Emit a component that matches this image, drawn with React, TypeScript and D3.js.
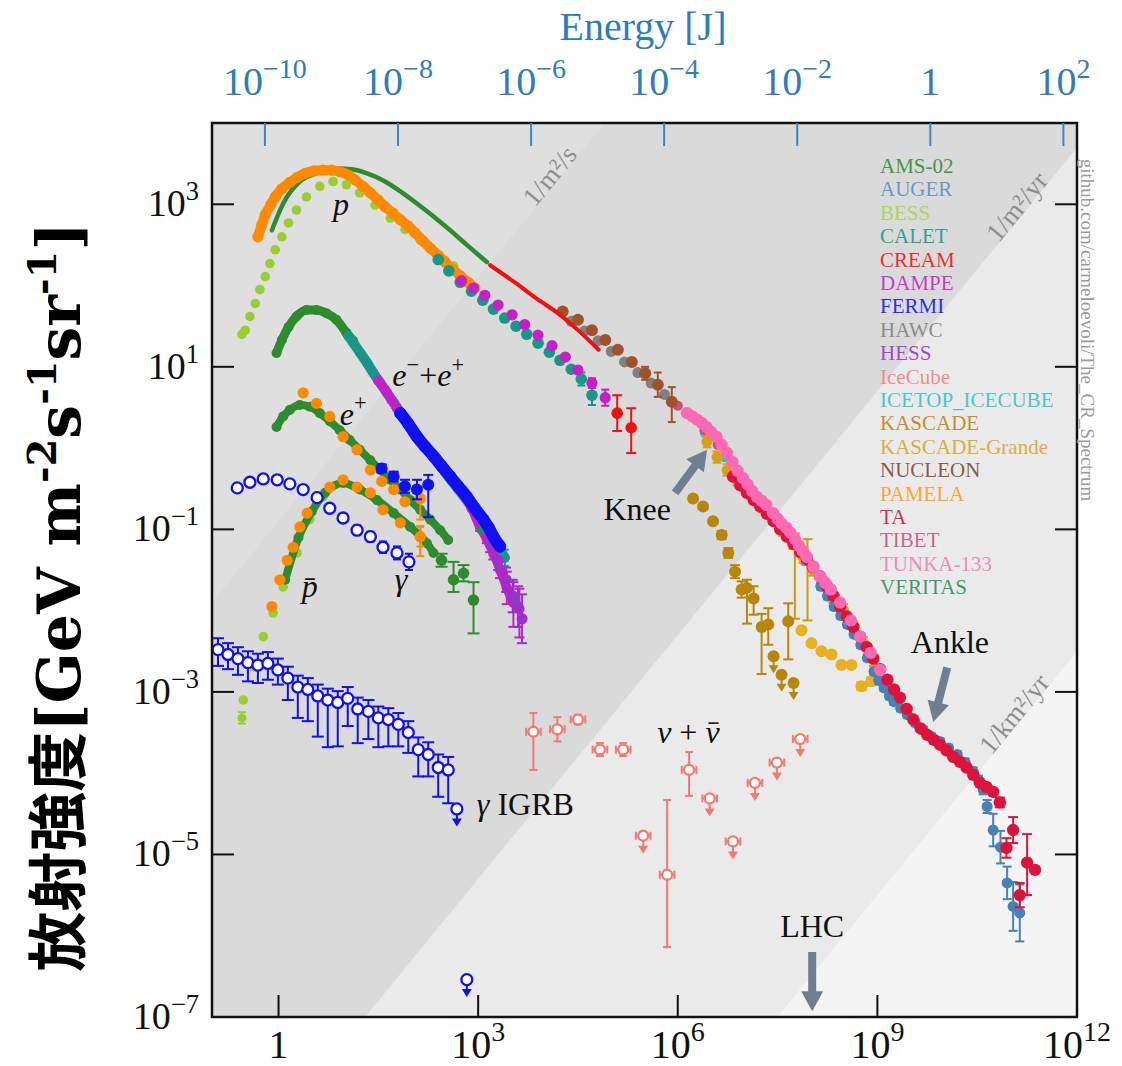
import React, { useEffect, useRef } from 'react';
import * as d3 from 'd3';

// Values, kept in decades:
// [log10(E / GeV), log10(E^2 J / GeV m^-2 s^-1 sr^-1), err down, err up]  (errors in decades)

// ---- protons
const bessP = [[-0.55,1.40],[-0.50,1.45],[-0.43,1.62],[-0.35,1.78],[-0.28,1.95],[-0.20,2.11],[-0.13,2.27],[-0.05,2.44],[0.05,2.60],[0.15,2.77],[0.27,2.93],[0.42,3.09],[0.62,3.22],[0.82,3.28],[1.02,3.24],[1.22,3.14],[1.45,2.99],[1.68,2.83],[1.90,2.69],[2.13,2.56],[2.32,2.43],[2.50,2.31],[2.63,2.24]];
const amsP = [[-0.10,2.68],[0.07,3.01],[0.32,3.28],[0.57,3.38],[0.87,3.44],[1.10,3.43],[1.33,3.38],[1.58,3.29],[1.83,3.16],[2.08,3.01],[2.33,2.85],[2.58,2.68],[2.83,2.50],[3.13,2.29]];
const pamelaP = [[-0.31,2.60],[-0.25,2.75],[-0.20,2.87],[-0.12,2.99],[-0.05,3.09],[0.05,3.19],[0.17,3.27],[0.28,3.33],[0.40,3.38],[0.53,3.41],[0.67,3.42],[0.80,3.42],[0.92,3.40],[1.05,3.36],[1.15,3.30],[1.27,3.22],[1.38,3.14],[1.50,3.05],[1.60,2.97],[1.72,2.89],[1.83,2.81],[1.95,2.73],[2.05,2.65],[2.17,2.55],[2.28,2.46],[2.40,2.37],[2.50,2.29],[2.62,2.20],[2.73,2.12],[2.85,2.04],[2.95,1.97]];
const caletP = [[2.40,2.32],[2.56,2.18],[2.73,2.04],[2.90,1.93],[3.07,1.82],[3.23,1.71],[3.40,1.60],[3.57,1.50],[3.73,1.40],[3.90,1.29],[4.07,1.18],[4.23,1.08],[4.40,0.97],[4.55,0.85,0.08],[4.71,0.65,0.12]];
const dampeP = [[2.75,2.06],[2.93,1.97],[3.10,1.88],[3.30,1.76],[3.51,1.64],[3.70,1.52],[3.90,1.39],[4.11,1.26],[4.31,1.12],[4.50,0.96],[4.71,0.80,0.06],[4.91,0.62,0.1]];
const creamLine = [[3.18,2.25],[3.53,2.05],[3.88,1.84],[4.23,1.64],[4.53,1.43],[4.81,1.21]];
const creamP = [[5.09,0.43,0.22,0.22],[5.30,0.25,0.31,0.24]];
const nucleon = [[4.27,1.68],[4.50,1.58],[4.71,1.45],[4.91,1.33],[5.10,1.21],[5.31,1.06],[5.51,0.92,0.08],[5.70,0.78,0.15],[5.91,0.57,0.25,0.18]];
const hawc = [[4.40,1.56],[4.60,1.44],[4.80,1.32],[5.00,1.19],[5.20,1.06],[5.40,0.93],[5.60,0.80],[5.80,0.66]];

// ---- all-particle, knee to ankle
const icetop = [[6.4,0.18],[6.7,-0.12],[7.0,-0.46],[7.3,-0.76],[7.6,-1.06],[7.9,-1.40],[8.2,-1.72]];
const tibet = [[6.0,0.52],[6.2,0.40],[6.4,0.22],[6.6,0.04],[6.8,-0.18],[7.0,-0.42]];
const kgAll = [[6.44,0.08,0.07],[6.59,-0.11,0.07],[6.74,-0.27,0.07],[6.89,-0.39,0.07],[7.09,-0.55,0.07],[7.28,-0.72,0.07],[7.43,-0.85,0.07],[7.58,-1.01,0.07],[7.73,-1.17,0.07],[7.88,-1.34,0.07],[8.03,-1.50,0.07],[8.18,-1.66,0.07],[8.33,-1.83,0.07],[8.49,-1.99,0.07],[8.64,-2.20,0.07],[8.79,-2.40,0.07],[8.94,-2.61,0.07]];
const kgWide = [[7.76,-1.55,0.55,0.5],[7.95,-1.62,0.5,0.5]];
const kgLight = [[7.86,-2.24],[8.01,-2.40],[8.16,-2.50],[8.31,-2.54],[8.46,-2.67],[8.61,-2.67],[8.76,-2.93,0.05],[8.91,-2.87,0.05]];
const kascade = [[6.23,-0.62],[6.38,-0.72],[6.53,-0.90],[6.66,-1.07,0.05],[6.76,-1.29,0.06],[6.86,-1.52,0.08],[6.96,-1.74,0.1],[7.04,-1.72,0.44,0.1],[7.14,-1.85,0.2,0.15],[7.26,-2.20,0.58,0.16],[7.36,-2.17,0.25,0.2],[7.66,-2.13,0.47,0.22]];
const kascadeUL = [[7.44,-2.56],[7.56,-2.79],[7.74,-2.89]];
const tunka = [[6.14,0.43],[6.22,0.39],[6.29,0.35],[6.36,0.31],[6.43,0.26],[6.50,0.20],[6.58,0.14],[6.66,0.04],[6.74,-0.06],[6.82,-0.17],[6.90,-0.28],[6.98,-0.37],[7.05,-0.45],[7.12,-0.53],[7.19,-0.60],[7.26,-0.65],[7.33,-0.70],[7.43,-0.80],[7.50,-0.87],[7.56,-0.93],[7.63,-0.98],[7.69,-1.04],[7.76,-1.12],[7.82,-1.20],[7.88,-1.27],[7.94,-1.34],[8.04,-1.46],[8.14,-1.58],[8.22,-1.66],[8.30,-1.74],[8.44,-1.90],[8.60,-2.12],[8.74,-2.32],[8.90,-2.52],[9.04,-2.73]];
const auger = [[8.15,-1.70,0.04],[8.25,-1.82,0.04],[8.35,-1.95,0.04],[8.45,-2.06,0.04],[8.55,-2.17,0.04],[8.65,-2.29,0.04],[8.75,-2.42,0.04],[8.85,-2.58,0.04],[8.95,-2.75,0.04],[9.02,-2.86,0.04],[9.10,-2.95,0.04],[9.18,-3.05,0.04],[9.25,-3.12,0.04],[9.35,-3.20,0.04],[9.45,-3.28,0.04],[9.57,-3.38,0.04],[9.69,-3.47,0.04],[9.81,-3.55,0.04],[9.94,-3.61,0.04],[10.07,-3.69,0.04],[10.20,-3.77,0.04],[10.32,-3.87,0.05],[10.44,-3.98,0.05],[10.52,-4.08,0.05],[10.59,-4.20,0.06],[10.65,-4.41,0.08],[10.74,-4.70,0.2],[10.85,-4.91,0.2],[10.95,-5.35,0.2],[11.04,-5.64,0.3],[11.14,-5.72,0.35]];
const ta = [[6.83,-0.35],[6.94,-0.46],[7.04,-0.55],[7.14,-0.64],[7.24,-0.72],[7.34,-0.81],[7.44,-0.90],[7.54,-1.00],[7.64,-1.09],[7.74,-1.18],[7.84,-1.28],[7.94,-1.37],[8.03,-1.46],[8.14,-1.58],[8.24,-1.70],[8.34,-1.82],[8.44,-1.95],[8.54,-2.07],[8.64,-2.20],[8.74,-2.32],[8.84,-2.45],[8.94,-2.59],[9.04,-2.72],[9.15,-2.85],[9.25,-2.97],[9.34,-3.07],[9.44,-3.21],[9.54,-3.34],[9.65,-3.45],[9.75,-3.53],[9.85,-3.59],[9.94,-3.65],[10.04,-3.72],[10.14,-3.80],[10.24,-3.86],[10.34,-3.93],[10.44,-4.02],[10.54,-4.12],[10.64,-4.17],[10.74,-4.23,0.04],[10.84,-4.36,0.06],[11.04,-4.70,0.16,0.16],[10.94,-4.92,0.12,0.12],[11.25,-5.10,0.4,0.35],[11.37,-5.19],[11.14,-5.50,0.15,0.15]];

// ---- leptons
const amsEE = [[-0.03,1.17],[0.05,1.33],[0.15,1.49],[0.27,1.62],[0.42,1.70],[0.57,1.70],[0.72,1.66],[0.87,1.58],[1.02,1.42],[1.12,1.32]];
const caletEE = [[1.05,1.38],[1.12,1.30],[1.22,1.18],[1.33,1.05],[1.42,0.93],[1.53,0.80],[1.63,0.68],[1.73,0.56],[1.83,0.44],[2.0,0.25],[2.3,-0.08],[2.6,-0.40],[2.9,-0.72],[3.2,-1.08],[3.4,-1.35,0.1]];
const dampeEE = [[1.50,0.83],[1.60,0.72],[1.70,0.59],[1.78,0.49],[1.90,0.36],[2.10,0.12],[2.40,-0.18],[2.70,-0.50],[2.90,-0.74],[3.03,-0.98,0.04],[3.13,-1.12,0.05],[3.23,-1.30,0.07],[3.33,-1.50,0.1],[3.43,-1.72,0.2,0.2],[3.53,-1.90,0.3,0.25],[3.62,-1.98,0.35,0.25]];
const fermiEE = [[1.83,0.43],[1.95,0.30],[2.08,0.14],[2.20,0.02],[2.33,-0.10],[2.45,-0.22],[2.58,-0.35],[2.70,-0.47],[2.83,-0.60],[2.95,-0.74],[3.08,-0.88],[3.16,-0.98],[3.23,-1.09],[3.33,-1.21]];
const hessEE = [[3.18,-1.18,0.1],[3.30,-1.38,0.12],[3.42,-1.62,0.15],[3.52,-1.82,0.2],[3.60,-1.95,0.25],[3.66,-2.10,0.3]];
const veritasEE = [[3.05,-1.0],[3.3,-1.4],[3.55,-1.85]];
const amsPos = [[-0.03,0.26],[0.07,0.39],[0.17,0.47],[0.32,0.53],[0.47,0.51],[0.62,0.43],[0.77,0.33],[0.92,0.22],[1.07,0.10],[1.22,-0.02],[1.38,-0.15],[1.53,-0.27],[1.68,-0.39],[1.83,-0.51],[1.98,-0.64],[2.13,-0.76],[2.28,-0.88],[2.43,-1.01],[2.55,-1.13]];
const pamelaPos = [[0.37,0.68],[0.57,0.55],[0.77,0.39],[0.97,0.14],[1.18,-0.02],[1.38,-0.27],[1.55,-0.41],[1.73,-0.51],[1.90,-0.66],[2.13,-0.62,0.26,0.14],[2.13,-1.09,0.24,0.13]];
const fermiPos = [[1.55,-0.25,0.05],[1.73,-0.35,0.06],[1.90,-0.47,0.08],[2.08,-0.51,0.12],[2.25,-0.45,0.4,0.12]];

// ---- antiprotons
const bessPbar = [[-0.53,-3.10],[-0.38,-2.69],[-0.23,-2.32],[-0.08,-2.03],[0.07,-1.71],[0.28,-1.29],[0.47,-0.88],[0.67,-0.60]];
const bessPbarLow = [[-0.55,-3.32,0.07]];
const amsPbar = [[0.10,-1.62],[0.30,-1.10],[0.50,-0.78],[0.70,-0.55],[0.97,-0.43],[1.22,-0.51],[1.48,-0.64],[1.73,-0.80],[1.98,-0.97],[2.23,-1.17],[2.33,-1.29]];
const amsPbarTail = [[2.45,-1.38,0.08],[2.63,-1.62,0.15,0.22],[2.78,-1.54,0.1],[2.93,-1.87,0.41,0.22]];
const pamelaPbar = [[-0.10,-1.95],[0.02,-1.62],[0.13,-1.38],[0.22,-1.22],[0.32,-0.97],[0.43,-0.80],[0.58,-0.60],[0.77,-0.48],[0.97,-0.39],[1.18,-0.48],[1.38,-0.55],[1.57,-0.76],[1.83,-0.92],[2.13,-1.09,0.12]];

// ---- gamma rays and neutrinos
const fermiDiffuse = [[-0.62,-0.49],[-0.43,-0.42],[-0.23,-0.38],[-0.02,-0.39],[0.17,-0.44],[0.37,-0.51],[0.58,-0.61,0.04],[0.77,-0.74,0.05],[0.97,-0.86,0.05],[1.18,-1.01,0.06],[1.38,-1.09,0.06],[1.57,-1.22,0.07],[1.78,-1.29,0.08],[1.96,-1.40,0.1]];
const igrb = [[-0.91,-2.48,0.2,0.14],[-0.76,-2.54,0.18,0.14],[-0.61,-2.59,0.2,0.14],[-0.46,-2.64,0.23,0.14],[-0.31,-2.67,0.22,0.14],[-0.16,-2.65,0.2,0.14],[-0.01,-2.73,0.18,0.14],[0.14,-2.83,0.27,0.14],[0.29,-2.94,0.38,0.14],[0.44,-2.97,0.39,0.14],[0.59,-3.05,0.5,0.14],[0.74,-3.10,0.58,0.14],[0.89,-3.13,0.54,0.14],[1.04,-3.08,0.34,0.14],[1.19,-3.21,0.42,0.14],[1.35,-3.24,0.34,0.14],[1.50,-3.32,0.36,0.14],[1.65,-3.34,0.33,0.14],[1.80,-3.40,0.27,0.14],[1.95,-3.50,0.25,0.14],[2.10,-3.71,0.33,0.15],[2.25,-3.77,0.27,0.15],[2.40,-3.93,0.36,0.16],[2.55,-3.96,0.41,0.16]];
const igrbUL = [[2.68,-4.44],[2.83,-6.54]];
const icecube = [[3.83,-3.49,0.47,0.23],[4.19,-3.46,0.15,0.15],[4.50,-3.34,0.06,0.06],[4.83,-3.71,0.08,0.08],[5.18,-3.71,0.08,0.08],[6.17,-3.96,0.32,0.22],[5.84,-5.25,0.89,0.92]];
const icecubeUL = [[5.48,-4.77],[6.48,-4.31],[6.83,-4.84],[7.16,-4.12],[7.49,-3.87],[7.84,-3.58]];
const icecubeXErr = 0.11;

// ---- constant integral-flux lines: log10 F = log10 E + c
const fluxLineC = [-14.5, -8.3, -0.9];
const fluxLineLabels = ['1/km²/yr', '1/m²/yr', '1/m²/s'];
const fluxLineLabelE = [11.16, 11.2, 4.18];

// ---- axes
const bottomExps = [0, 3, 6, 9, 12];
const leftExps = [3, 1, -1, -3, -5, -7];
const jouleExps = [-10, -8, -6, -4, -2, 0, 2];
const gevInJoule = 1.602e-10;

// ---- legend
const legendNames = ['AMS-02','AUGER','BESS','CALET','CREAM','DAMPE','FERMI','HAWC','HESS','IceCube','ICETOP_ICECUBE','KASCADE','KASCADE-Grande','NUCLEON','PAMELA','TA','TIBET','TUNKA-133','VERITAS'];
const legendColors = ['#2e8b2e','#5b8cc4','#a8d44a','#17968a','#f01010','#c41fc9','#1010f0','#808080','#9932cc','#f08080','#2ec4c4','#b8860b','#daa520','#7a4634','#ff9a1a','#c0183e','#c8507a','#f27ab8','#2e8b57'];

const SERIF = "'Liberation Serif', 'Times New Roman', serif";

export default function App() {
  const svgRef = useRef<SVGSVGElement>(null);

  useEffect(() => {
    document.body.style.margin = '0';
    const svg = d3.select(svgRef.current);
    svg.selectAll('*').remove();

    const x = d3.scaleLog().domain([1e-1, 1e12]).range([212, 1077]);
    const y = d3.scaleLog().domain([1e-7, 1e4]).range([1017, 123]);
    const X = (v: number) => x(Math.pow(10, v));
    const Y = (v: number) => y(Math.pow(10, v));
    const [x0, x1] = x.range();
    const [yb, yt] = y.range();

    svg.append('defs').append('clipPath').attr('id', 'plot-clip')
      .append('rect').attr('x', x0).attr('y', yt).attr('width', x1 - x0).attr('height', yb - yt);
    const plot = svg.append('g').attr('clip-path', 'url(#plot-clip)');

    // background bands
    const bandFill = ['#eaeaea', '#dadada', '#dfdfdf'];
    plot.append('rect').attr('x', x0).attr('y', yt).attr('width', x1 - x0).attr('height', yb - yt).attr('fill', '#f4f4f4');
    fluxLineC.forEach((c, i) => {
      const pts = [[-3, -3 + c], [16, 16 + c], [16, 30], [-3, 30]].map(p => [X(p[0]), Y(p[1])]);
      plot.append('path').attr('d', 'M' + pts.join('L') + 'Z').attr('fill', bandFill[i]);
    });
    const lineAngle = Math.atan2(Y(1) - Y(0), X(1) - X(0)) * 180 / Math.PI;
    fluxLineC.forEach((c, i) => {
      const le = fluxLineLabelE[i];
      plot.append('text')
        .attr('transform', `translate(${X(le)},${Y(le + c)}) rotate(${lineAngle})`)
        .attr('text-anchor', 'middle').attr('font-family', SERIF).attr('font-size', 27)
        .attr('fill', '#8e8e8e').text(fluxLineLabels[i]);
    });

    const line = d3.line<number[]>().x(d => X(d[0])).y(d => Y(d[1])).curve(d3.curveMonotoneX);

    const series = (data: number[][], o: any) => {
      const g = plot.append('g');
      const col = o.color;
      const sw = o.sw ?? 2;
      const cw = o.cap ?? 4;
      if (o.band) {
        g.append('path').datum(data).attr('d', line).attr('fill', 'none').attr('stroke', col)
          .attr('stroke-width', o.band).attr('stroke-linecap', 'round').attr('stroke-linejoin', 'round');
      }
      const eb = data.filter(d => d.length > 2);
      const lo = (d: number[]) => Y(d[1] - d[2]);
      const hi = (d: number[]) => Y(d[1] + (d.length > 3 ? d[3] : d[2]));
      g.selectAll('line.ev').data(eb).join('line').attr('class', 'ev')
        .attr('x1', d => X(d[0])).attr('x2', d => X(d[0])).attr('y1', lo).attr('y2', hi)
        .attr('stroke', col).attr('stroke-width', sw);
      g.selectAll('line.cl').data(eb).join('line').attr('class', 'cl')
        .attr('x1', d => X(d[0]) - cw).attr('x2', d => X(d[0]) + cw).attr('y1', lo).attr('y2', lo)
        .attr('stroke', col).attr('stroke-width', sw);
      g.selectAll('line.ch').data(eb).join('line').attr('class', 'ch')
        .attr('x1', d => X(d[0]) - cw).attr('x2', d => X(d[0]) + cw).attr('y1', hi).attr('y2', hi)
        .attr('stroke', col).attr('stroke-width', sw);
      if (o.xerr) {
        g.selectAll('line.xe').data(data).join('line').attr('class', 'xe')
          .attr('x1', d => X(d[0] - o.xerr)).attr('x2', d => X(d[0] + o.xerr))
          .attr('y1', d => Y(d[1])).attr('y2', d => Y(d[1])).attr('stroke', col).attr('stroke-width', sw);
        [-1, 1].forEach(s => {
          g.selectAll('line.xc' + (s > 0 ? 'r' : 'l')).data(data).join('line').attr('class', 'xc' + (s > 0 ? 'r' : 'l'))
            .attr('x1', d => X(d[0] + s * o.xerr)).attr('x2', d => X(d[0] + s * o.xerr))
            .attr('y1', d => Y(d[1]) - cw).attr('y2', d => Y(d[1]) + cw).attr('stroke', col).attr('stroke-width', sw);
        });
      }
      if (o.r) {
        g.selectAll('circle').data(data).join('circle')
          .attr('cx', d => X(d[0])).attr('cy', d => Y(d[1])).attr('r', o.r)
          .attr('fill', o.open ? '#ffffff' : col)
          .attr('stroke', o.open ? col : 'none').attr('stroke-width', o.open ? 2.3 : 0);
      }
    };

    const upperLimits = (data: number[][], o: any) => {
      const g = plot.append('g');
      const col = o.color;
      const len = o.len ?? 12;
      data.forEach(d => {
        const cx = X(d[0]), cy = Y(d[1]);
        const tip = cy + o.r + len;
        g.append('line').attr('x1', cx).attr('x2', cx).attr('y1', cy).attr('y2', tip - 5)
          .attr('stroke', col).attr('stroke-width', 2);
        g.append('path').attr('d', `M${cx - 5},${tip - 7}L${cx + 5},${tip - 7}L${cx},${tip + 1}Z`).attr('fill', col);
      });
      series(data, { color: col, r: o.r, open: o.open, xerr: o.xerr, cap: 4 });
    };

    // hidden-ish layers first
    series(icetop, { color: '#2ec4c4', r: 4.5 });
    series(tibet, { color: '#c8507a', r: 5 });
    series(hawc, { color: '#808080', r: 5.5 });
    series(nucleon, { color: '#a0522d', r: 6 });

    series(kgAll, { color: '#d4a017', r: 5.5, cap: 4.5 });
    series(kgWide, { color: '#c99a1a', r: 0, cap: 5 });
    series(kascade, { color: '#b8860b', r: 6, cap: 5 });
    upperLimits(kascadeUL, { color: '#b8860b', r: 6, len: 10 });
    series(kgLight, { color: '#e8b020', r: 6, cap: 5 });
    series(auger, { color: '#4682b4', r: 5.5, cap: 4.5 });
    series(ta, { color: '#dc143c', r: 6.2, cap: 5 });
    series(tunka, { color: '#ff69b4', r: 6.2 });

    // protons
    series(bessP, { color: '#9acd32', r: 4.8 });
    series(amsP, { color: '#2e8b2e', band: 4.5 });
    series(pamelaP, { color: '#ff8a00', r: 5.6, band: 10 });
    series(caletP, { color: '#17968a', r: 5.8, cap: 4 });
    series(dampeP, { color: '#c41fc9', r: 5.6, cap: 4 });
    series(creamLine, { color: '#f01010', band: 4 });
    series(creamP, { color: '#f01010', r: 5.8, cap: 5 });

    // leptons
    series(amsEE, { color: '#2e8b2e', r: 5, band: 9 });
    series(caletEE, { color: '#17968a', r: 5, band: 10 });
    series(dampeEE, { color: '#c41fc9', r: 5.2, band: 9, cap: 5 });
    series(veritasEE, { color: '#2e8b57', r: 5 });
    series(hessEE, { color: '#9932cc', r: 5.5, cap: 5 });
    series(fermiEE, { color: '#1010f0', r: 6, band: 12 });
    series(amsPos, { color: '#2e8b2e', r: 5, band: 8 });
    series(pamelaPos, { color: '#ff8a00', r: 5.6, cap: 4 });
    series(fermiPos, { color: '#1010f0', r: 6, cap: 5 });

    // antiprotons
    series(bessPbar, { color: '#9acd32', r: 4.8 });
    series(bessPbarLow, { color: '#9acd32', r: 4.5, cap: 4 });
    series(amsPbar, { color: '#2e8b2e', r: 5, band: 8 });
    series(amsPbarTail, { color: '#2e8b2e', r: 5.8, cap: 6 });
    series(pamelaPbar, { color: '#ff8a00', r: 5.6, cap: 4 });

    // gamma rays, neutrinos
    series(fermiDiffuse, { color: '#1010f0', r: 5.5, open: true, cap: 4 });
    series(igrb, { color: '#1010f0', r: 5.5, open: true, cap: 6 });
    upperLimits(igrbUL, { color: '#1010f0', r: 5.5, open: true, len: 11 });
    series(icecube, { color: '#f07a74', r: 5, open: true, cap: 4, sw: 2, xerr: icecubeXErr });
    upperLimits(icecubeUL, { color: '#f07a74', r: 5, open: true, len: 12, xerr: icecubeXErr });

    // frame & ticks
    const axes = svg.append('g');
    axes.append('rect').attr('x', x0).attr('y', yt).attr('width', x1 - x0).attr('height', yb - yt)
      .attr('fill', 'none').attr('stroke', '#111').attr('stroke-width', 2.5);
    bottomExps.filter(e => e < 12).forEach(e => {
      axes.append('line').attr('x1', X(e)).attr('x2', X(e)).attr('y1', yb).attr('y2', yb - 22).attr('stroke', '#111').attr('stroke-width', 2);
    });
    leftExps.filter(e => e > -7).forEach(e => {
      axes.append('line').attr('x1', x0).attr('x2', x0 + 22).attr('y1', Y(e)).attr('y2', Y(e)).attr('stroke', '#111').attr('stroke-width', 2);
      axes.append('line').attr('x1', x1).attr('x2', x1 - 22).attr('y1', Y(e)).attr('y2', Y(e)).attr('stroke', '#111').attr('stroke-width', 2);
    });
    const jx = (e: number) => X(e - Math.log10(gevInJoule));
    jouleExps.forEach(e => {
      axes.append('line').attr('x1', jx(e)).attr('x2', jx(e)).attr('y1', yt).attr('y2', yt + 23).attr('stroke', '#3d84c0').attr('stroke-width', 2);
    });

    const expLabel = (sel: any, e: number, size: number) => {
      if (e === 0) { sel.append('tspan').text('1'); return; }
      sel.append('tspan').text('10');
      sel.append('tspan').attr('dy', -0.42 * size).attr('font-size', size * 0.7)
        .text(e < 0 ? '\u2212' + Math.abs(e) : String(e));
    };

    bottomExps.forEach(e => {
      const t = axes.append('text').attr('x', X(e)).attr('y', 1058).attr('text-anchor', 'middle')
        .attr('font-family', SERIF).attr('font-size', 40).attr('fill', '#111');
      expLabel(t, e, 40);
    });
    leftExps.forEach(e => {
      const t = axes.append('text').attr('x', 199).attr('y', Y(e) + 12).attr('text-anchor', 'end')
        .attr('font-family', SERIF).attr('font-size', 38).attr('fill', '#111');
      expLabel(t, e, 38);
    });
    jouleExps.forEach(e => {
      const t = axes.append('text').attr('x', jx(e)).attr('y', 95).attr('text-anchor', 'middle')
        .attr('font-family', SERIF).attr('font-size', 40).attr('fill', '#2f7db8');
      expLabel(t, e, 40);
    });
    axes.append('text').attr('x', 643).attr('y', 40).attr('text-anchor', 'middle')
      .attr('font-family', SERIF).attr('font-size', 40).attr('fill', '#2f7db8').text('Energy [J]');

    // y-axis title
    const yt0 = svg.append('text').attr('transform', 'translate(80,597) rotate(-90)')
      .attr('text-anchor', 'middle').attr('font-family', "'DejaVu Serif', 'Noto Sans CJK JP', serif")
      .attr('font-weight', 'bold').attr('font-size', 60).attr('fill', '#000');
    const titleParts: [string, boolean][] = [['放射強度[GeV m', false], ['-2', true], ['s', false], ['-1', true], ['sr', false], ['-1', true], [']', false]];
    let raised = false;
    titleParts.forEach(([s, sup]) => {
      const ts = yt0.append('tspan').text(s);
      if (sup) { ts.attr('dy', -24).attr('font-size', 40); raised = true; }
      else if (raised) { ts.attr('dy', 24); raised = false; }
    });

    // watermark
    svg.append('text').attr('transform', 'translate(1081,330) rotate(90)').attr('text-anchor', 'middle')
      .attr('font-family', SERIF).attr('font-size', 19).attr('fill', '#9a9a9a')
      .text('github.com/carmeloevoli/The_CR_Spectrum');

    // legend
    const lg = svg.append('g').attr('font-family', SERIF).attr('font-size', 21);
    legendNames.forEach((n, i) => {
      lg.append('text').attr('x', 880).attr('y', 173 + i * 23.4).attr('fill', legendColors[i])
        .attr('fill-opacity', 0.88).text(n);
    });

    // annotations
    const ann = svg.append('g').attr('font-family', SERIF).attr('fill', '#111');
    const label = (at: number[], anchor: string, size: number, parts: [string, string][]) => {
      const t = ann.append('text').attr('x', X(at[0])).attr('y', Y(at[1])).attr('text-anchor', anchor).attr('font-size', size);
      let up = false;
      parts.forEach(([s, kind]) => {
        const ts = t.append('tspan').text(s);
        if (kind.includes('i')) ts.attr('font-style', 'italic');
        if (kind.includes('s')) { ts.attr('dy', -0.45 * size).attr('font-size', size * 0.7); up = true; }
        else if (up) { ts.attr('dy', 0.45 * size); up = false; }
      });
      return t;
    };
    label([0.94, 2.87], 'middle', 32, [['p', 'i']]);
    label([1.71, 0.76], 'start', 32, [['e', 'i'], ['\u2212', 's'], ['+', ''], ['e', 'i'], ['+', 's']]);
    label([0.92, 0.29], 'start', 32, [['e', 'i'], ['+', 's']]);
    label([0.47, -1.83], 'middle', 32, [['p\u0304', 'i']]);
    label([1.84, -1.74], 'middle', 32, [['\u03b3', 'i']]);
    label([2.98, -4.51], 'start', 32, [['\u03b3', 'i'], [' IGRB', '']]);
    const nu = label([5.69, -3.63], 'start', 32, [['\u03bd', 'i'], [' + ', ''], ['\u03bd', 'i']]);
    // bar over the second nu
    const nuNode = nu.node() as SVGTextElement;
    const nChars = nuNode.getNumberOfChars();
    const ext = nuNode.getExtentOfChar(nChars - 1);
    const barY = Y(-3.63) - 20;
    ann.append('line').attr('x1', ext.x + 3).attr('x2', ext.x + ext.width - 1).attr('y1', barY).attr('y2', barY)
      .attr('stroke', '#111').attr('stroke-width', 1.6);
    label([5.39, -0.88], 'middle', 32, [['Knee', '']]);
    label([10.09, -2.52], 'middle', 32, [['Ankle', '']]);
    label([8.02, -6.01], 'middle', 32, [['LHC', '']]);

    const arrowCol = '#6f7f90';
    const arrow = (from: number[], to: number[]) => {
      const ax = X(from[0]), ay = Y(from[1]), bx = X(to[0]), by = Y(to[1]);
      const a = Math.atan2(by - ay, bx - ax);
      const hl = 20, hw = 11;
      const sx = bx - hl * Math.cos(a), sy = by - hl * Math.sin(a);
      ann.append('line').attr('x1', ax).attr('y1', ay).attr('x2', sx + Math.cos(a)).attr('y2', sy + Math.sin(a))
        .attr('stroke', arrowCol).attr('stroke-width', 8);
      ann.append('path').attr('fill', arrowCol)
        .attr('d', `M${bx},${by}L${sx + hw * Math.sin(a)},${sy - hw * Math.cos(a)}L${sx - hw * Math.sin(a)},${sy + hw * Math.cos(a)}Z`);
    };
    arrow([5.96, -0.55], [6.44, -0.02]);
    arrow([10.05, -2.70], [9.84, -3.37]);
    arrow([8.02, -6.20], [8.02, -6.93]);
  }, []);

  return <svg ref={svgRef} width={1122} height={1066} style={{ display: 'block', background: '#fff' }} />;
}
